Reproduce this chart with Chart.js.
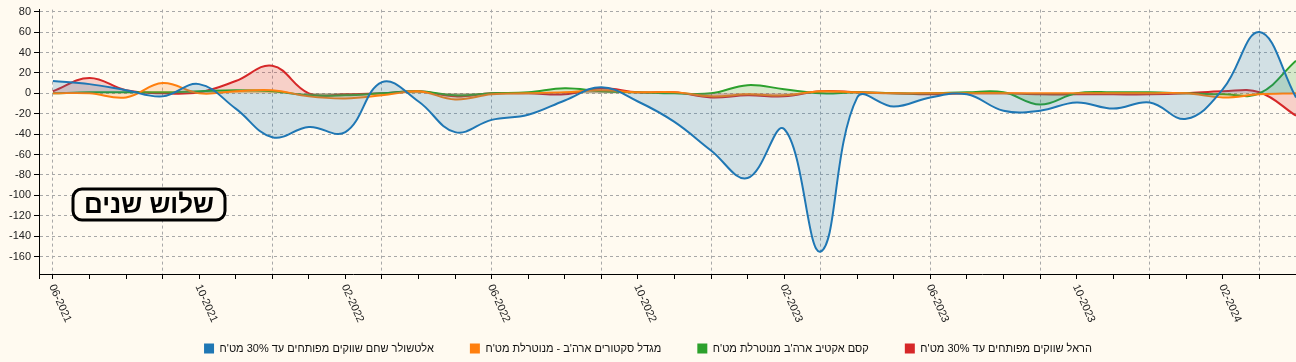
<!DOCTYPE html>
<html>
<head>
<meta charset="utf-8">
<script src="https://cdn.jsdelivr.net/npm/chart.js@4/dist/chart.umd.min.js"></script>
<style>
    html, body { margin: 0; padding: 0; background: #fffaf0; }
    #wrap { width: 1296px; height: 362px; }
</style>
</head>
<body>
<div id="wrap"><canvas id="myChart"></canvas></div>
<script>
const months = ['06-2021', '07-2021', '08-2021', '09-2021', '10-2021', '11-2021', '12-2021',
    '01-2022', '02-2022', '03-2022', '04-2022', '05-2022', '06-2022', '07-2022', '08-2022', '09-2022',
    '10-2022', '11-2022', '12-2022', '01-2023', '02-2023', '03-2023', '04-2023', '05-2023', '06-2023',
    '07-2023', '08-2023', '09-2023', '10-2023', '11-2023', '12-2023', '01-2024', '02-2024', '03-2024',
    '04-2024'];

const seriesNames = [
    'אלטשולר שחם שווקים מפותחים עד 30% מט\'ח',
    'מגדל סקטורים ארה\'ב - מנוטרלת מט\'ח',
    'קסם אקטיב ארה\'ב מנוטרלת מט\'ח',
    'הראל שווקים מפותחים עד 30% מט\'ח'
];

const altshuler = [12, 9, 3, -3, 9, -15, -43, -33, -38, 11, -8, -38, -26, -21, -7, 6, -8, -28, -56, -83,
    -35, -155, -4, -13, -4, -1, -17, -17, -9, -15, -9, -25, 4, 60, -4];
const migdal = [0, 0, -4, 10, 0, 2, 3, -3, -5, -2, 2, -6, -1, 0, 1, 3, 1, 1, -3, -1,
    -2, 2, 1, 0, 0, 0, 0, 0, 0, 0, 0, 0, -4, -1, 0];
const kesem = [0, 1, 1, 1, 2, 3, 2, -2, -2, 0, 2, -2, 0, 1, 5, 2, 1, 0, 0, 8,
    4, 0, 1, 0, 0, 1, 1, -11, 0, 1, 1, 0, -1, 0, 32];
const harel = [2, 15, 3, 0, 1, 12, 27, 0, -1, 0, 2, -3, 0, 0, -1, 5, 1, 1, -4, -2,
    -3, 2, 1, 0, -1, 0, 0, -1, -1, -1, -1, 0, 2, 1, -22];

const periodTitle = 'שלוש שנים';
const bgColor = '#fffaf0';

const colors = ['#1f77b4', '#ff7f0e', '#2ca02c', '#d62728'];
const fills = ['rgba(31,119,180,0.2)', 'rgba(255,127,14,0.2)', 'rgba(44,160,44,0.2)', 'rgba(214,39,40,0.2)'];

const xMin = -0.38;

function toPoints(arr) {
    return arr.map((v, i) => ({ x: i, y: v }));
}

// x labels are drawn rotated clockwise, every 4th month
const monthLabels = {
    id: 'monthLabels',
    afterDraw(chart) {
        const xs = chart.scales.x;
        const c = chart.ctx;
        c.save();
        c.direction = 'ltr';
        c.font = '11px Arial';
        c.fillStyle = '#222';
        c.textAlign = 'left';
        c.textBaseline = 'middle';
        months.forEach((m, i) => {
            if (i % 4 !== 0) return;
            const px = xs.getPixelForValue(i);
            c.save();
            c.translate(px - 1, xs.top + 11);
            c.rotate(66 * Math.PI / 180);
            c.fillText(m, 0, 0);
            c.restore();
        });
        c.restore();
    }
};

// the framed title in the lower left
const periodBox = {
    id: 'periodBox',
    afterDatasetsDraw(chart) {
        const c = chart.ctx;
        const left = chart.chartArea.left + 34;
        c.save();
        c.beginPath();
        c.roundRect(left, 189, 152, 31, 9);
        c.fillStyle = bgColor;
        c.fill();
        c.lineWidth = 3;
        c.strokeStyle = '#000';
        c.stroke();
        c.font = 'bold 26px Arial';
        c.textAlign = 'center';
        c.textBaseline = 'middle';
        c.fillStyle = '#000';
        c.fillText(periodTitle, left + 76, 206);
        c.restore();
    }
};

const ctx = document.getElementById('myChart').getContext('2d');
new Chart(ctx, {
    type: 'line',
    data: {
        datasets: [altshuler, migdal, kesem, harel].map((arr, k) => ({
            label: seriesNames[k],
            data: toPoints(arr),
            borderColor: colors[k],
            backgroundColor: fills[k],
            borderWidth: 2,
            pointRadius: 0,
            tension: 0.4,
            fill: 'origin'
        }))
    },
    options: {
        responsive: true,
        maintainAspectRatio: false,
        animation: false,
        layout: { padding: { top: 8, left: 0, right: 0, bottom: -2 } },
        scales: {
            x: {
                type: 'linear',
                min: xMin,
                max: 34,
                // one tick per month, plus one at the axis corner
                afterBuildTicks: scale => {
                    scale.ticks = [{ value: xMin }].concat(months.map((m, i) => ({ value: i })));
                },
                afterFit: scale => { scale.height = 33; },
                ticks: { display: false },
                grid: {
                    color: c => (c.tick && c.tick.value >= 0 && c.tick.value % 3 === 0) ? '#a8a8a8' : 'rgba(0,0,0,0)',
                    tickColor: '#000',
                    tickLength: 5,
                    lineWidth: 1
                },
                border: { color: '#000', dash: [3, 3] }
            },
            y: {
                min: -177,
                max: 82,
                afterFit: scale => { scale.width = 39; },
                ticks: {
                    stepSize: 20,
                    includeBounds: false,
                    color: '#222',
                    padding: 3,
                    font: { size: 11, family: 'Arial' }
                },
                grid: { color: '#a8a8a8', tickColor: '#000', tickLength: 5 },
                border: { color: '#000', dash: [3, 3] }
            }
        },
        plugins: {
            tooltip: { enabled: false },
            legend: {
                position: 'bottom',
                labels: {
                    boxWidth: 10,
                    boxHeight: 10,
                    padding: 36,
                    color: '#111',
                    font: { size: 11, family: 'Arial' },
                    generateLabels: chart => Chart.defaults.plugins.legend.labels.generateLabels(chart)
                        .map(l => ({ ...l, fillStyle: l.strokeStyle, lineWidth: 0 }))
                }
            }
        }
    },
    plugins: [monthLabels, periodBox]
});
</script>
</body>
</html>
